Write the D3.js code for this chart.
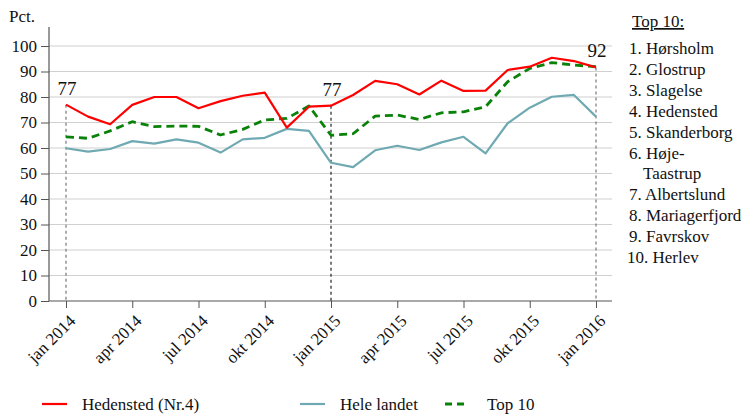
<!DOCTYPE html>
<html>
<head>
<meta charset="utf-8">
<script src="https://cdn.jsdelivr.net/npm/d3@7"></script>
<style>
  html, body { margin: 0; padding: 0; background: #fff; }
  svg text { font-family: 'Liberation Serif', 'Times New Roman', Tinos, 'DejaVu Serif', serif !important; }
</style>
</head>
<body>
<svg id="chart" width="741" height="415"></svg>
<script>
// ---- data ----
const monthIndex = d3.range(25); // jan 2014 .. jan 2016, monthly
const tickIndex = [0, 3, 6, 9, 12, 15, 18, 21, 24];
const tickLabels = ["jan 2014", "apr 2014", "jul 2014", "okt 2014", "jan 2015", "apr 2015", "jul 2015", "okt 2015", "jan 2016"];
const yTicks = [0, 10, 20, 30, 40, 50, 60, 70, 80, 90, 100];

const hedensted = [77, 72.3, 69.3, 76.9, 80, 80, 75.6, 78.4, 80.5, 81.7, 68, 76.2, 76.6, 80.8, 86.3, 85, 81, 86.4, 82.4, 82.5, 90.6, 91.9, 95.4, 94.1, 91.6];
const heleLandet = [59.9, 58.6, 59.6, 62.7, 61.7, 63.4, 62.1, 58.2, 63.4, 64, 67.5, 66.7, 54.2, 52.5, 59.1, 60.9, 59.2, 62.2, 64.4, 57.9, 69.7, 75.8, 80.1, 80.8, 72.3];
const top10 = [64.4, 63.8, 66.7, 70.3, 68.4, 68.6, 68.5, 65.1, 67.3, 71, 71.6, 76.5, 65, 65.6, 72.5, 72.9, 71.2, 73.8, 74.2, 76.2, 86, 91.2, 93.5, 92.5, 91.9];

const markerIndex = [0, 12, 24];
const markerLabels = ["77", "77", "92"];

const seriesNames = ["Hedensted (Nr.4)", "Hele landet", "Top 10"];
const top10Title = "Top 10:";
const top10List = ["1. Hørsholm", "2. Glostrup", "3. Slagelse", "4. Hedensted", "5. Skanderborg", "6. Høje-", "Taastrup", "7. Albertslund", "8. Mariagerfjord", "9. Favrskov", "10. Herlev"];
const yTitle = "Pct.";

// ---- layout ----
const svg = d3.select("#chart");
const plotLeft = 49, plotRight = 612, plotBottom = 301;
const x = d3.scaleLinear().domain([0, 24]).range([66, 596]);
const y = d3.scaleLinear().domain([0, 100]).range([301, 46]);
const fontSize = 17;

// gridlines
svg.append("g").selectAll("line").data(yTicks.filter(d => d > 0)).join("line")
  .attr("x1", plotLeft).attr("x2", plotRight)
  .attr("y1", d => y(d)).attr("y2", d => y(d))
  .attr("stroke", "#d0d0d0").attr("stroke-width", 1.2);

// y axis
const yAxis = svg.append("g").attr("transform", `translate(${plotLeft},0)`)
  .call(d3.axisLeft(y).tickValues(yTicks).tickSize(8).tickPadding(4).tickFormat(d3.format("d")));
yAxis.select(".domain").remove();
yAxis.append("line").attr("x1", 0).attr("x2", 0).attr("y1", 27).attr("y2", plotBottom)
  .attr("stroke", "#555").attr("stroke-width", 1.2);
yAxis.selectAll(".tick line").attr("stroke", "#555");
yAxis.selectAll(".tick text").attr("font-size", fontSize).attr("fill", "#111");

// x axis
const xAxis = svg.append("g").attr("transform", `translate(0,${plotBottom})`)
  .call(d3.axisBottom(x).tickValues(tickIndex).tickSize(7).tickFormat((d, i) => tickLabels[i]));
xAxis.select(".domain").remove();
xAxis.append("line").attr("x1", plotLeft).attr("x2", plotRight).attr("y1", 0).attr("y2", 0)
  .attr("stroke", "#555").attr("stroke-width", 1.2);
xAxis.selectAll(".tick line").attr("stroke", "#555");
xAxis.selectAll(".tick text")
  .attr("font-size", fontSize).attr("fill", "#111")
  .attr("text-anchor", "end")
  .attr("x", 0).attr("y", 0).attr("dy", 0)
  .attr("transform", "translate(10,21) rotate(-45)");

// vertical dashed reference lines
const refColors = ["#777", "#222", "#777"];
svg.append("g").selectAll("line").data(markerIndex).join("line")
  .attr("x1", d => x(d)).attr("x2", d => x(d))
  .attr("y1", d => y(hedensted[d])).attr("y2", plotBottom)
  .attr("stroke", (d, i) => refColors[i]).attr("stroke-width", 1.2)
  .attr("stroke-dasharray", "3,3");

// lines
const line = d3.line().x((d, i) => x(monthIndex[i])).y(d => y(d));
const seriesStyles = [
  { data: heleLandet, color: "#6fa9b2", width: 2.2, dash: null },
  { data: top10, color: "#0a820a", width: 2.8, dash: "8,5" },
  { data: hedensted, color: "#ff0000", width: 2.2, dash: null }
];
svg.append("g").selectAll("path").data(seriesStyles).join("path")
  .attr("d", s => line(s.data))
  .attr("fill", "none")
  .attr("stroke", s => s.color)
  .attr("stroke-width", s => s.width)
  .attr("stroke-dasharray", s => s.dash)
  .attr("stroke-linejoin", "round");

// value labels
svg.append("g").selectAll("text").data(markerIndex).join("text")
  .attr("x", d => x(d) + 1).attr("y", d => y(hedensted[d]) - 10)
  .attr("text-anchor", "middle").attr("font-size", 19).attr("fill", "#111")
  .text((d, i) => markerLabels[i]);

// y title
svg.append("text").attr("x", 9).attr("y", 22).attr("font-size", fontSize).attr("fill", "#111").text(yTitle);

// legend
const legendX = [42, 300, 445];
const legendColors = ["#ff0000", "#6fa9b2", "#0a820a"];
const legendDash = [null, null, "7,5"];
const legendY = 404;
const lg = svg.append("g").selectAll("g").data(seriesNames).join("g")
  .attr("transform", (d, i) => `translate(${legendX[i]},${legendY})`);
lg.append("line").attr("x1", 0).attr("x2", (d, i) => i === 2 ? 23 : 25).attr("y1", 0).attr("y2", 0)
  .attr("stroke", (d, i) => legendColors[i]).attr("stroke-width", (d, i) => i === 2 ? 2.8 : 2.2)
  .attr("stroke-dasharray", (d, i) => legendDash[i]);
lg.append("text").attr("x", (d, i) => i === 2 ? 42 : 40).attr("y", 5.5)
  .attr("font-size", fontSize).attr("fill", "#111").text(d => d);

// top 10 list
const listG = svg.append("g");
listG.append("text").attr("x", 632).attr("y", 27).attr("font-size", fontSize).attr("fill", "#111")
  .attr("text-decoration", "underline").text(top10Title);
listG.selectAll("text.item").data(top10List).join("text").attr("class", "item")
  .attr("x", (d, i) => d.startsWith("10.") ? 627 : (d === "Taastrup" ? 643 : 629))
  .attr("y", (d, i) => 54 + i * 20.9)
  .attr("font-size", fontSize).attr("fill", "#111").text(d => d);
</script>
</body>
</html>
